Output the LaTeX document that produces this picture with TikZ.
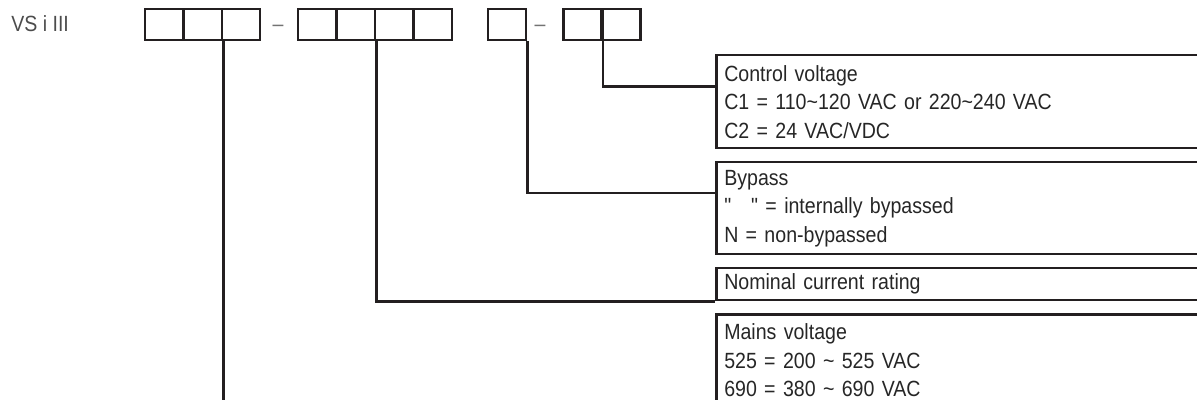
\documentclass[tikz,border=0pt]{standalone}
\usepackage{fontspec}
\setmainfont[FakeStretch=0.89]{Liberation Sans}
\newfontfamily\plainquote[FakeStretch=0.89]{Liberation Sans}
\definecolor{ink}{HTML}{231F20}

\begin{document}
\begin{tikzpicture}[x=0.5pt, y=-0.5pt, line width=1.25pt, color=ink,
    font=\fontsize{11}{14.25}\selectfont]
    \useasboundingbox (0,0) rectangle (1197,400);
    \tikzstyle{cell} = [draw, minimum width=19.2pt, minimum height=15.5pt, inner sep=0pt];
    \tikzstyle{infobox} = [draw, anchor=north west, text width=234.5pt, inner xsep=4pt,
        inner ysep=2pt, align=left, text=black!85];
    \tikzstyle{dashmark} = [anchor=base, inner sep=0pt, text=black!55];
    % type code:
    \node[anchor=base west, inner sep=0pt, text=black!70] (type) at (10,32) {VS i III};
    \node[cell] (a1) at (164,24.5){};
    \node[cell] (a2) at (203,24.5){};
    \node[cell] (a3) at (241,24.5){};
    \node[dashmark] (s1) at (278,32) {–};
    \node[cell] (b1) at (317,24.5){};
    \node[cell] (b2) at (356,24.5){};
    \node[cell] (b3) at (394,24.5){};
    \node[cell] (b4) at (433,24.5){};
    \node[cell] (c1) at (507,24.5){};
    \node[dashmark] (s2) at (540,32) {–};
    \node[cell] (d1) at (582.5,24.5){};
    \node[cell] (d2) at (621.5,24.5){};
    % descriptions:
    \node[infobox, minimum height=46.5pt] (ctl) at (715,54)
        {Control voltage\\C1 = 110\char`~120 VAC or 220\char`~240 VAC\\C2 = 24 VAC/VDC};
    \node[infobox, minimum height=46pt] (byp) at (715,161)
        {Bypass\\{\plainquote"\hspace{10pt}"} = internally bypassed\\N = non-bypassed};
    \node[infobox, minimum height=16pt] (nom) at (715,267) {Nominal current rating};
    \node[infobox, minimum height=46pt] (mains) at (715,313)
        {Mains voltage\\525 = 200 \char`~{} 525 VAC\\690 = 380 \char`~{} 690 VAC};
    % lines:
    \draw (d1.south east) |- ([yshift=7.5pt]ctl.west);
    \draw (c1.south east) |- ([yshift=7.5pt]byp.west);
    \draw (b2.south east) |- (nom.south west);
    \draw (a2.south east) |- (mains.south west);
\end{tikzpicture}
\end{document}
